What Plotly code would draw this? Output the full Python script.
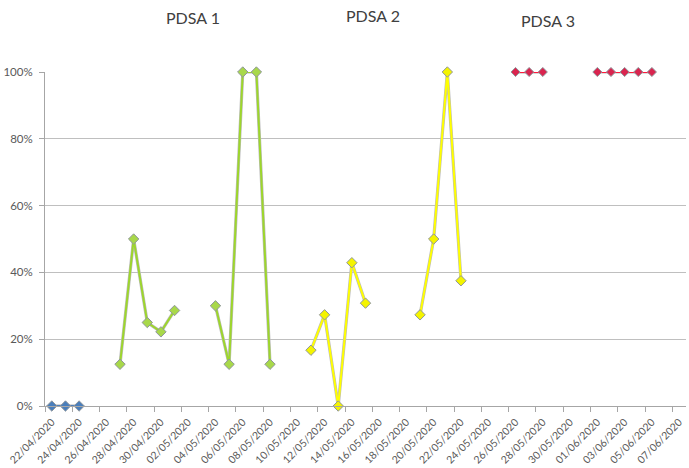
import plotly.graph_objects as go
from datetime import datetime, timedelta

# ---- data ----
dates_base = ["2020-04-22", "2020-04-23", "2020-04-24"]
vals_base = [0, 0, 0]

dates_pdsa1 = ["2020-04-27", "2020-04-28", "2020-04-29", "2020-04-30", "2020-05-01", "2020-05-02",
               "2020-05-03", "2020-05-04", "2020-05-05", "2020-05-06", "2020-05-07", "2020-05-08"]
vals_pdsa1 = [0.125, 0.50, 0.25, 0.222, 0.286, None, None, 0.30, 0.125, 1.0, 1.0, 0.125]

dates_pdsa2 = ["2020-05-11", "2020-05-12", "2020-05-13", "2020-05-14", "2020-05-15", "2020-05-16",
               "2020-05-17", "2020-05-18", "2020-05-19", "2020-05-20", "2020-05-21", "2020-05-22"]
vals_pdsa2 = [0.167, 0.273, 0.0, 0.429, 0.308, None, None, None, 0.273, 0.50, 1.0, 0.375]

dates_pdsa3 = ["2020-05-26", "2020-05-27", "2020-05-28", "2020-05-29", "2020-05-30", "2020-05-31",
               "2020-06-01", "2020-06-02", "2020-06-03", "2020-06-04", "2020-06-05"]
vals_pdsa3 = [1.0, 1.0, 1.0, None, None, None, 1.0, 1.0, 1.0, 1.0, 1.0]

phase_labels = ["PDSA 1", "PDSA 2", "PDSA 3"]

label_start = datetime(2020, 4, 22)
label_dates = [label_start + timedelta(days=2 * i) for i in range(24)]
tick_text = [d.strftime("%d/%m/%Y") for d in label_dates]
tick_vals = [d.strftime("%Y-%m-%d") for d in label_dates]
minor_vals = [(d - timedelta(hours=12)).strftime("%Y-%m-%d %H:%M") for d in label_dates]

FONT = "Lato"
GRAY_TXT = "#595959"

fig = go.Figure()

series = [
    (dates_base, vals_base, "#4f81bd", "#4a7ebb", 8),
    (dates_pdsa1, vals_pdsa1, "#9dd62c", "#a8d84a", 8),
    (dates_pdsa2, vals_pdsa2, "#ffff00", "#f4f400", 8),
    (dates_pdsa3, vals_pdsa3, "#ff1a3c", "#d9254f", 7),
]

for d, v, lc, mc, ms in series:
    # soft gray edge under the line
    fig.add_trace(go.Scatter(x=d, y=v, mode="lines", line=dict(color="#bdbdbd", width=3.2),
                             hoverinfo="skip", showlegend=False, cliponaxis=False))
    fig.add_trace(go.Scatter(x=d, y=v, mode="lines+markers", line=dict(color=lc, width=2),
                             marker=dict(symbol="diamond", size=ms, color=mc,
                                         line=dict(color="#8f969c", width=1)),
                             showlegend=False, cliponaxis=False))

fig.update_layout(
    width=689, height=468,
    margin=dict(l=45, r=3, t=72, b=62, autoexpand=False),
    paper_bgcolor="white", plot_bgcolor="white",
    font=dict(family=FONT, size=10, color=GRAY_TXT),
    showlegend=False,
)

fig.update_xaxes(
    type="date", automargin=False,
    range=["2020-04-21 12:00", "2020-06-07 12:00"],
    tickmode="array", tickvals=tick_vals, ticktext=tick_text,
    tickangle=-45, tickfont=dict(family=FONT, size=10.5, color=GRAY_TXT),
    ticks="outside", ticklen=5, tickcolor="rgba(0,0,0,0)",
    minor=dict(tickmode="array", tickvals=minor_vals, ticks="outside", ticklen=5,
               tickcolor="#a6a6a6", showgrid=False),
    showgrid=False, zeroline=False,
    showline=True, linecolor="#a6a6a6", linewidth=1,
)

fig.update_yaxes(
    range=[0, 1], dtick=0.2, tickformat=".0%", automargin=False,
    tickfont=dict(family=FONT, size=11.5, color=GRAY_TXT),
    ticks="outside", ticklen=5, tickcolor="#a6a6a6", ticklabelstandoff=4,
    showgrid=True, gridcolor="#bfbfbf", gridwidth=1,
    zeroline=False, showline=True, linecolor="#a6a6a6", linewidth=1,
)

for txt, xp, yp in zip(phase_labels, [0.231, 0.512, 0.785], [1.162, 1.168, 1.153]):
    fig.add_annotation(text=txt, x=xp, y=yp, xref="paper", yref="paper",
                       showarrow=False, xanchor="center", yanchor="middle",
                       font=dict(family=FONT, size=16, color="#404040"))

fig.write_html("out.html", config={"displayModeBar": False},
               post_script="document.body.style.margin='0';")
